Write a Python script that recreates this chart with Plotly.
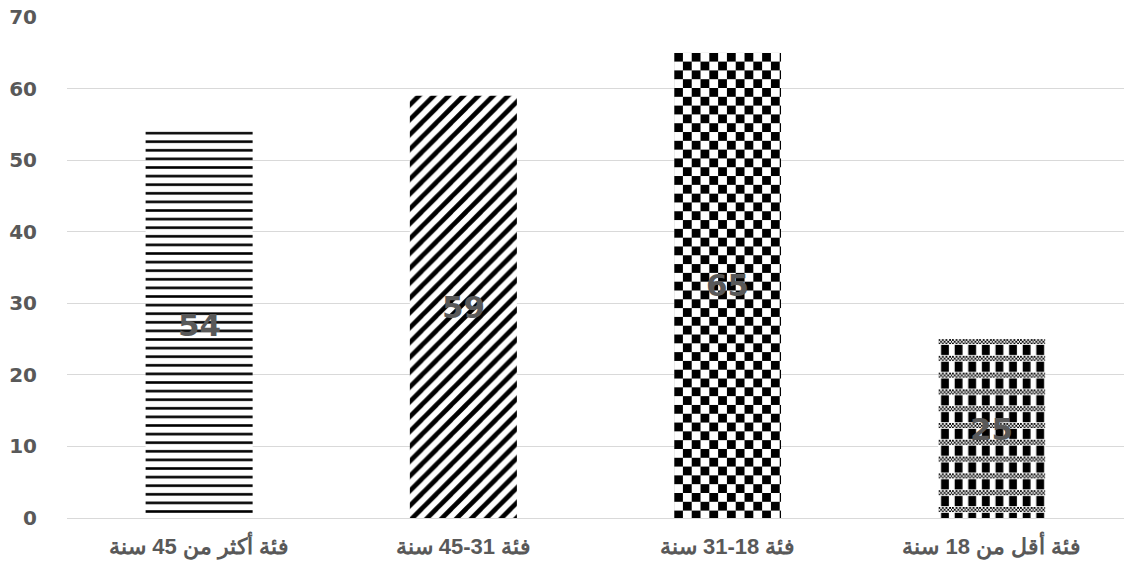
import base64
import plotly.graph_objects as go

# Age groups (left to right) and the number of respondents in each
categories = ["فئة أكثر من 45 سنة", "فئة 31-45 سنة", "فئة 18-31 سنة", "فئة أقل من 18 سنة"]
values = [54, 59, 65, 25]
y_ticks = [0, 10, 20, 30, 40, 50, 60, 70]

BAR_WIDTH = 0.405
PX_PER_UNIT = 501 / 70  # vertical pixels per unit in the plot area
BAR_PX = 107            # bar width in pixels
GREY = "#595959"


def svg_uri(svg):
    return "data:image/svg+xml;base64," + base64.b64encode(svg.encode()).decode()


def checker_svg(w, h, s=8.8):
    return (
        f'<svg xmlns="http://www.w3.org/2000/svg" width="{w}" height="{h}" '
        f'viewBox="0 0 {w} {h}" preserveAspectRatio="none"><defs>'
        f'<pattern id="p" width="{2*s}" height="{2*s}" patternUnits="userSpaceOnUse">'
        f'<rect width="{2*s}" height="{2*s}" fill="#fff"/>'
        f'<rect width="{s}" height="{s}" fill="#000"/>'
        f'<rect x="{s}" y="{s}" width="{s}" height="{s}" fill="#000"/>'
        f'</pattern></defs><rect width="{w}" height="{h}" fill="url(#p)"/></svg>'
    )


def plaid_svg(w, h, period=16.8, col=6.8, band=5.0, fine=1.8):
    return (
        f'<svg xmlns="http://www.w3.org/2000/svg" width="{w}" height="{h}" '
        f'viewBox="0 0 {w} {h}" preserveAspectRatio="none"><defs>'
        f'<pattern id="f" width="{2*fine}" height="{2*fine}" patternUnits="userSpaceOnUse">'
        f'<rect width="{2*fine}" height="{2*fine}" fill="#fff"/>'
        f'<rect width="{fine}" height="{fine}" fill="#000"/>'
        f'<rect x="{fine}" y="{fine}" width="{fine}" height="{fine}" fill="#000"/></pattern>'
        f'<pattern id="p" width="{2*col}" height="{period}" patternUnits="userSpaceOnUse">'
        f'<rect width="{2*col}" height="{period}" fill="#fff"/>'
        f'<rect width="{2*col}" height="{band}" fill="url(#f)"/>'
        f'<rect x="{col*0.4}" y="{band+0.8}" width="{col*1.15}" height="{period-band-1.6}" fill="#000"/>'
        f'</pattern></defs><rect width="{w}" height="{h}" fill="url(#p)"/></svg>'
    )


x_pos = list(range(len(categories)))

fig = go.Figure()
fig.add_trace(go.Bar(
    x=x_pos,
    y=values,
    width=BAR_WIDTH,
    marker=dict(
        color="white",
        line=dict(width=0),
        pattern=dict(
            shape=["-", "/", "", ""],
            fgcolor="black",
            bgcolor="white",
            size=[8.6, 10.5, 8, 8],
            solidity=[0.3, 0.45, 0.5, 0.5],
            fillmode="replace",
        ),
    ),
    hoverinfo="skip",
))

# Checkerboard fills for the two right-hand bars
images = []
for i, v in enumerate(values):
    h_px = round(v * PX_PER_UNIT)
    if i == 2:
        src = svg_uri(checker_svg(BAR_PX, h_px))
    elif i == 3:
        src = svg_uri(plaid_svg(BAR_PX, h_px))
    else:
        continue
    images.append(dict(
        source=src, xref="x", yref="y",
        x=x_pos[i] - BAR_WIDTH / 2, y=v,
        sizex=BAR_WIDTH, sizey=v,
        xanchor="left", yanchor="top",
        sizing="stretch", layer="above",
    ))

# Value labels in the middle of each bar
annotations = [
    dict(x=x_pos[i], y=v / 2, text=f"<b>{v}</b>", showarrow=False,
         font=dict(family="DejaVu Sans", size=31, color=GREY),
         xref="x", yref="y")
    for i, v in enumerate(values)
]

fig.update_layout(
    width=1124,
    height=567,
    margin=dict(l=67, r=0, t=17, b=49),
    paper_bgcolor="white",
    plot_bgcolor="white",
    showlegend=False,
    images=images,
    annotations=annotations,
)
fig.update_xaxes(
    range=[-0.5, 3.5],
    tickvals=x_pos,
    ticktext=[f"<b>{c}</b>" for c in categories],
    showgrid=False,
    zeroline=False,
    showline=False,
    ticks="",
    ticklabelstandoff=13,
    tickfont=dict(family="Liberation Sans", size=22, color=GREY),
)
fig.update_yaxes(
    range=[0, 70],
    tickvals=y_ticks,
    ticktext=[f"<b>{t}</b>" for t in y_ticks],
    showgrid=True,
    gridcolor="#d9d9d9",
    gridwidth=1.3,
    zeroline=True,
    zerolinecolor="#d9d9d9",
    zerolinewidth=1.3,
    showline=False,
    ticks="",
    ticklabelstandoff=29,
    tickfont=dict(family="DejaVu Sans", size=20, color=GREY),
)

fig.write_html("out.html")
